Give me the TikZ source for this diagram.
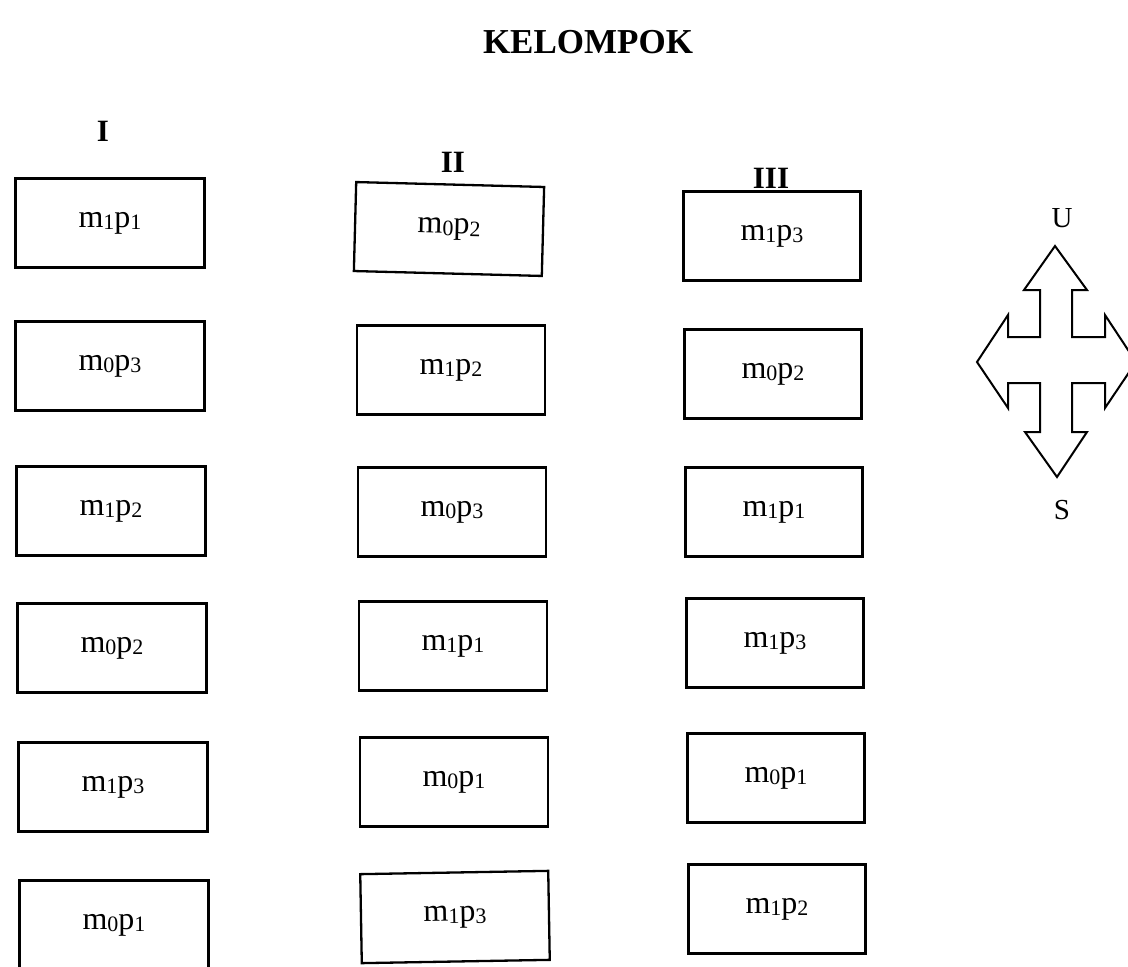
\documentclass[tikz,border=0pt]{standalone}
\usepackage{fontspec}
\setmainfont{Liberation Serif}
\newcommand{\mpcell}[2]{m\raisebox{-0.08em}{\fontsize{22}{22}\selectfont #1}p\raisebox{-0.08em}{\fontsize{22}{22}\selectfont #2}}
\begin{document}
\begin{tikzpicture}[x=1pt,y=-1pt,
  cell/.style={draw,line width=2.3pt,minimum height=89pt,inner sep=0pt,font=\fontsize{32}{32}\selectfont},
  cellI/.style={cell,minimum width=189pt},
  cellII/.style={cell,minimum width=188pt},
  cellIII/.style={cell,minimum width=177pt},
  head/.style={font=\fontsize{31}{31}\selectfont\bfseries},
  dirlabel/.style={font=\fontsize{29}{29}\selectfont}]
\useasboundingbox (0,0) rectangle (1128,967);
\clip (0,0) rectangle (1128,967);
\node[font=\fontsize{35}{35}\selectfont\bfseries] (title) at (588,42) {KELOMPOK};
\node[head] (hI) at (103,131) {I};
\node[head] (hII) at (453,162) {II};
\node[head] (hIII) at (771,178) {III};
% column I
\node[cellI] (a1) at (110,223) {\mpcell{1}{1}};
\node[cellI] (a2) at (110,366) {\mpcell{0}{3}};
\node[cellI] (a3) at (111,511) {\mpcell{1}{2}};
\node[cellI] (a4) at (112,648) {\mpcell{0}{2}};
\node[cellI] (a5) at (113,787) {\mpcell{1}{3}};
\node[cellI] (a6) at (114,925) {\mpcell{0}{1}};
% column II
\node[cellII,rotate=-1.5] (b1) at (449,229) {\mpcell{0}{2}};
\node[cellII] (b2) at (451,370) {\mpcell{1}{2}};
\node[cellII] (b3) at (452,512) {\mpcell{0}{3}};
\node[cellII] (b4) at (453,646) {\mpcell{1}{1}};
\node[cellII] (b5) at (454,782) {\mpcell{0}{1}};
\node[cellII,rotate=1] (b6) at (455,917) {\mpcell{1}{3}};
% column III
\node[cellIII] (c1) at (772,236) {\mpcell{1}{3}};
\node[cellIII] (c2) at (773,374) {\mpcell{0}{2}};
\node[cellIII] (c3) at (774,512) {\mpcell{1}{1}};
\node[cellIII] (c4) at (775,643) {\mpcell{1}{3}};
\node[cellIII] (c5) at (776,778) {\mpcell{0}{1}};
\node[cellIII] (c6) at (777,909) {\mpcell{1}{2}};
% compass
\node[dirlabel] (U) at (1062,218) {U};
\node[dirlabel] (S) at (1062,510) {S};
\draw[line width=2pt,line join=miter]
  (1055,246) -- (1087,290) -- (1072,290) -- (1072,337) -- (1105,337) -- (1105,315)
  -- (1136,362) -- (1105,408) -- (1105,383) -- (1072,383) -- (1072,432) -- (1087,432)
  -- (1057,477) -- (1025,432) -- (1040,432) -- (1040,383) -- (1008,383) -- (1008,408)
  -- (977,362) -- (1008,315) -- (1008,337) -- (1040,337) -- (1040,290) -- (1024,290) -- cycle;
\end{tikzpicture}
\end{document}
